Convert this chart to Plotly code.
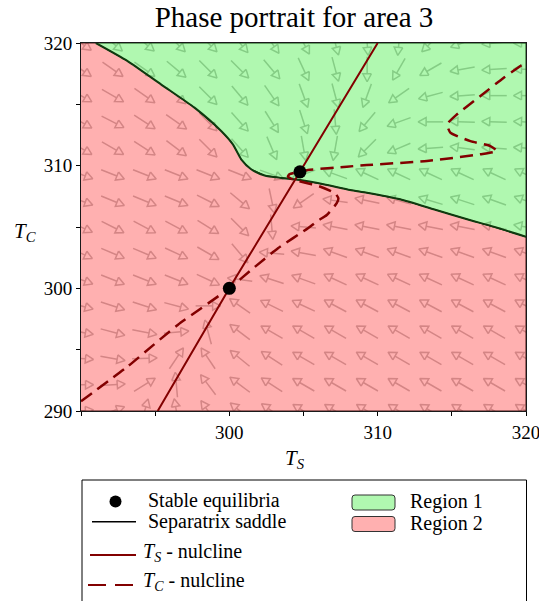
import math
import plotly.graph_objects as go

# ---------------- data ----------------
TITLE = "Phase portrait for area 3"
X_RANGE = [290, 320]
Y_RANGE = [290, 320]
X_TICKS = [300, 310, 320]
X_TICKTEXT = ["300", "310", "320"]
X_MINOR = [290, 295, 305, 315]
Y_TICKS = [290, 300, 310, 320]
Y_TICKTEXT = ["290", "300", "310", "320"]
Y_MINOR = [295, 305, 315]

# stable equilibria
EQ_TS = [300.0, 304.76]
EQ_TC = [300.0, 309.5]

# separatrix of the saddle
SEP_TS = [291.0, 293.14, 295.39, 297.65, 299.45, 300.24, 300.8, 301.47, 302.38,
          303.5, 304.76, 306.5, 308.14, 309.27, 311.52, 313.77, 316.03, 317.82, 320.0]
SEP_TC = [320.0, 318.53, 316.63, 314.73, 312.83, 311.74, 310.52, 309.71, 309.2,
          309.0, 308.83, 308.45, 308.02, 307.8, 307.26, 306.45, 305.63, 305.03, 304.2]

# T_S nullcline (solid)
TSN_TS = [295.17, 300.0, 304.76, 310.0]
TSN_TC = [290.0, 300.0, 309.5, 320.0]

# T_C nullcline (dashed)
TCN_TS = [290.0, 293.14, 296.52, 300.0, 301.47, 303.28, 305.3, 305.89, 306.57, 307.24,
          307.35, 307.13, 306.1, 304.99, 304.4, 303.95, 304.05, 304.76, 305.3, 307.92,
          309.27, 313.32, 316.93, 318.05, 317.6, 316.25, 314.9, 314.68, 315.35, 316.93,
          318.5, 320.0]
TCN_TC = [290.8, 293.62, 297.02, 300.0, 301.5, 303.27, 304.9, 305.45, 305.98, 306.94,
          307.34, 307.75, 308.3, 308.65, 308.83, 309.1, 309.3, 309.5, 309.65, 309.92,
          310.05, 310.38, 310.93, 311.2, 311.6, 312.0, 312.7, 313.37, 314.19, 315.68,
          317.17, 318.45]

# direction field grid (15 x 15) and arrow directions (screen degrees, rows from T_C=290 upward)
GRID_TS = [290.0, 292.14, 294.29, 296.43, 298.57, 300.71, 302.86, 305.0,
           307.14, 309.29, 311.43, 313.57, 315.71, 317.86, 320.0]
GRID_TC = [290.0, 292.14, 294.29, 296.43, 298.57, 300.71, 302.86, 305.0,
           307.14, 309.29, 311.43, 313.57, 315.71, 317.86, 320.0]
ARROW_ANGLES = [
    [5, 20, 74, 100, 125, 140, 145, 148, 148, 148, 148, 148, 148, 148, 148],
    [0, 4, 32, 95, 127, 143, 147, 150, 150, 150, 150, 150, 150, 150, 150],
    [-5, -10, 2, 56, 124, 141, 147, 150, 150, 150, 150, 150, 150, 150, 150],
    [-10, -15, -11, 5, 105, 143, 150, 150, 150, 150, 150, 150, 150, 150, 150],
    [-15, -18, -18, -15, 0, 145, 154, 155, 152, 152, 152, 152, 152, 152, 152],
    [-20, -22, -22, -22, -25, 172, 162, 160, 155, 155, 155, 155, 155, 155, 155],
    [-25, -23, -23, -25, -30, -50, 175, 170, 160, 160, 160, 160, 160, 160, 160],
    [-25, -27, -28, -28, -32, -45, -85, 175, 169, 169, 169, 169, 169, 169, 169],
    [-20, -22, -22, -22, -27, -40, -78, -145, 172, 168, 165, 163, 162, 160, 160],
    [-20, -22, -22, -22, -22, -22, -20, -160, 160, 155, 155, 155, 155, 155, 155],
    [-30, -30, -33, -37, -45, -48, -67, -80, -100, -135, -157, -176, 172, 176, 176],
    [-30, -27, -33, -35, -45, -48, -58, -72, -85, -130, -160, 180, 178, 178, 178],
    [-30, -30, -35, -40, -45, -50, -55, -70, -75, -110, -145, -165, -176, 180, 180],
    [-35, -35, -35, -40, -45, -45, -50, -65, -75, -90, -120, -150, -170, -176, 180],
    [-35, -40, -40, -45, -45, -50, -55, -62, -75, -85, -95, -135, -160, -175, 180],
]

LEGEND_LEFT = ["Stable equilibria", "Separatrix saddle",
               "<i>T</i><sub><i>S</i></sub> - nulcline",
               "<i>T</i><sub><i>C</i></sub> - nulcline"]
LEGEND_RIGHT = ["Region 1", "Region 2"]

# ---------------- layout geometry ----------------
FIG_W, FIG_H = 539, 601
ML, MR, MT, MB = 81, 13, 43, 190
PW = FIG_W - ML - MR
PH = FIG_H - MT - MB
KX = PW / (X_RANGE[1] - X_RANGE[0])
KY = PH / (Y_RANGE[1] - Y_RANGE[0])

SERIF = "Liberation Serif, Times New Roman, serif"
DARKRED = "#820000"

# ---------------- arrows ----------------
ARROW_LEN = 25.0
HEAD_LEN = 8.0
HEAD_HALF = 4.3
ax, ay = [], []
for j, tc in enumerate(GRID_TC):
    for i, ts in enumerate(GRID_TS):
        a = math.radians(ARROW_ANGLES[j][i])
        ux, uy = math.cos(a), math.sin(a)
        tail = (ts - ux * ARROW_LEN / 2 / KX, tc - uy * ARROW_LEN / 2 / KY)
        tip = (ts + ux * ARROW_LEN / 2 / KX, tc + uy * ARROW_LEN / 2 / KY)
        base = (tip[0] - ux * HEAD_LEN / KX, tip[1] - uy * HEAD_LEN / KY)
        px, py = -uy, ux
        bl = (base[0] + px * HEAD_HALF / KX, base[1] + py * HEAD_HALF / KY)
        br = (base[0] - px * HEAD_HALF / KX, base[1] - py * HEAD_HALF / KY)
        ax += [tail[0], base[0], None, bl[0], tip[0], br[0], bl[0], None]
        ay += [tail[1], base[1], None, bl[1], tip[1], br[1], bl[1], None]

fig = go.Figure()
fig.add_trace(go.Scatter(x=ax, y=ay, mode="lines",
                         line=dict(color="rgb(100,100,100)", width=1.5),
                         hoverinfo="skip", showlegend=False))

# ---------------- regions ----------------
red_x = [X_RANGE[0], X_RANGE[1], X_RANGE[1]] + SEP_TS[::-1] + [X_RANGE[0]]
red_y = [Y_RANGE[0], Y_RANGE[0], SEP_TC[-1]] + SEP_TC[::-1] + [Y_RANGE[1]]
fig.add_trace(go.Scatter(x=red_x, y=red_y, mode="lines", fill="toself",
                         fillcolor="rgba(255,145,145,0.72)",
                         line=dict(color="rgb(70,20,20)", width=1),
                         hoverinfo="skip", showlegend=False))
green_x = SEP_TS + [X_RANGE[1], SEP_TS[0]]
green_y = SEP_TC + [Y_RANGE[1], Y_RANGE[1]]
fig.add_trace(go.Scatter(x=green_x, y=green_y, mode="lines", fill="toself",
                         fillcolor="rgba(145,245,145,0.72)",
                         line=dict(color="rgb(20,70,20)", width=1),
                         hoverinfo="skip", showlegend=False))

# ---------------- curves ----------------
fig.add_trace(go.Scatter(x=SEP_TS, y=SEP_TC, mode="lines",
                         line=dict(color="#0f3a0f", width=2, shape="spline", smoothing=0.6),
                         showlegend=False))
fig.add_trace(go.Scatter(x=TSN_TS, y=TSN_TC, mode="lines",
                         line=dict(color=DARKRED, width=2),
                         showlegend=False))
fig.add_trace(go.Scatter(x=TCN_TS, y=TCN_TC, mode="lines",
                         line=dict(color=DARKRED, width=2.5, dash="13px,7px",
                                   shape="spline", smoothing=0.5),
                         showlegend=False))
fig.add_trace(go.Scatter(x=EQ_TS, y=EQ_TC, mode="markers",
                         marker=dict(color="black", size=13),
                         showlegend=False))

# ---------------- manual legend ----------------
def xp(px):
    return (px - ML) / PW


def yp(py):
    return (MT + PH - py) / PH


def rounded_rect(x0, y0, x1, y1, r):
    # pixel corners -> SVG path in paper coordinates
    pts = [
        f"M {xp(x0 + r)},{yp(y0)}",
        f"L {xp(x1 - r)},{yp(y0)}",
        f"Q {xp(x1)},{yp(y0)} {xp(x1)},{yp(y0 + r)}",
        f"L {xp(x1)},{yp(y1 - r)}",
        f"Q {xp(x1)},{yp(y1)} {xp(x1 - r)},{yp(y1)}",
        f"L {xp(x0 + r)},{yp(y1)}",
        f"Q {xp(x0)},{yp(y1)} {xp(x0)},{yp(y1 - r)}",
        f"L {xp(x0)},{yp(y0 + r)}",
        f"Q {xp(x0)},{yp(y0)} {xp(x0 + r)},{yp(y0)}",
        "Z",
    ]
    return " ".join(pts)


shapes = []
annotations = []
shapes.append(dict(type="rect", xref="paper", yref="paper",
                   x0=xp(82), x1=xp(526.5), y0=yp(615), y1=yp(480),
                   line=dict(color="black", width=1), fillcolor="white"))
# dot
shapes.append(dict(type="circle", xref="paper", yref="paper",
                   x0=xp(109.5), x1=xp(121.5), y0=yp(507.5), y1=yp(495.5),
                   fillcolor="black", line=dict(color="black", width=0)))
shapes.append(dict(type="line", xref="paper", yref="paper",
                   x0=xp(92), x1=xp(136), y0=yp(521.7), y1=yp(521.7),
                   line=dict(color="black", width=1.5)))
shapes.append(dict(type="line", xref="paper", yref="paper",
                   x0=xp(90), x1=xp(136), y0=yp(555), y1=yp(555),
                   line=dict(color=DARKRED, width=2)))
shapes.append(dict(type="line", xref="paper", yref="paper",
                   x0=xp(88), x1=xp(134), y0=yp(585), y1=yp(585),
                   line=dict(color=DARKRED, width=2, dash="18px,9px")))
text_x = [146, 146, 141, 141]
text_y = [500, 521, 552, 581]
for k, lab in enumerate(LEGEND_LEFT):
    annotations.append(dict(text=lab, xref="paper", yref="paper",
                            x=xp(text_x[k]), y=yp(text_y[k]), xanchor="left", yanchor="middle",
                            showarrow=False, font=dict(family=SERIF, size=20, color="black")))
right_rows = [502.5, 524]
sw_colors = ["rgb(176,248,176)", "rgb(255,176,176)"]
for k, lab in enumerate(LEGEND_RIGHT):
    shapes.append(dict(type="path", xref="paper", yref="paper",
                       path=rounded_rect(352, right_rows[k] - 7.5, 395, right_rows[k] + 7.5, 3),
                       fillcolor=sw_colors[k], line=dict(color="#333333", width=1)))
    annotations.append(dict(text=lab, xref="paper", yref="paper",
                            x=xp(407.5), y=yp(right_rows[k] - 1), xanchor="left", yanchor="middle",
                            showarrow=False, font=dict(family=SERIF, size=20, color="black")))

# axis titles
annotations.append(dict(text="<i>T</i><sub><i>S</i></sub>", xref="paper", yref="paper",
                        x=xp(295), y=yp(459), xanchor="center", yanchor="middle",
                        showarrow=False, font=dict(family=SERIF, size=21, color="black")))
annotations.append(dict(text="<i>T</i><sub><i>C</i></sub>", xref="paper", yref="paper",
                        x=xp(25), y=yp(232), xanchor="center", yanchor="middle",
                        showarrow=False, font=dict(family=SERIF, size=21, color="black")))

axis_common = dict(showgrid=False, zeroline=False, showline=True, mirror=True,
                   linecolor="#1a1a1a", linewidth=1, ticks="outside", ticklen=4,
                   tickcolor="black", tickwidth=1, ticklabeloverflow="allow",
                   automargin=False,
                   tickfont=dict(family=SERIF, size=19, color="black"))

fig.update_layout(
    width=FIG_W, height=FIG_H,
    margin=dict(l=ML, r=MR, t=MT, b=MB, pad=0, autoexpand=False),
    paper_bgcolor="white", plot_bgcolor="white",
    title=dict(text=TITLE, x=294 / FIG_W, xanchor="center", xref="container",
               y=1 - 17 / FIG_H, yanchor="middle", yref="container",
               font=dict(family=SERIF, size=29, color="black")),
    xaxis=dict(range=X_RANGE, tickmode="array", tickvals=X_TICKS, ticktext=X_TICKTEXT,
               minor=dict(tickmode="array", tickvals=X_MINOR, ticks="outside", ticklen=4,
                          tickcolor="black", showgrid=False),
               **axis_common),
    yaxis=dict(range=Y_RANGE, tickmode="array", tickvals=Y_TICKS, ticktext=Y_TICKTEXT,
               minor=dict(tickmode="array", tickvals=Y_MINOR, ticks="outside", ticklen=4,
                          tickcolor="black", showgrid=False),
               **axis_common),
    shapes=shapes,
    annotations=annotations,
    showlegend=False,
)

fig.write_html("out.html", config={"displayModeBar": False},
               post_script="document.body.style.margin='0px';")
